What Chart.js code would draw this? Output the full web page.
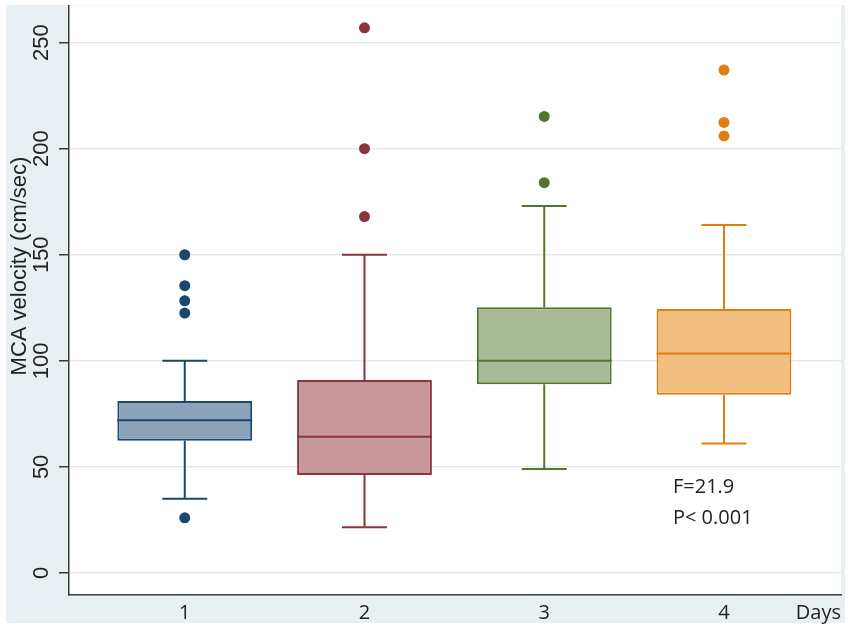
<!DOCTYPE html>
<html>
<head>
<meta charset="utf-8">
<script src="https://cdn.jsdelivr.net/npm/chart.js@4.4.1/dist/chart.umd.min.js"></script>
<style>
  html, body { margin: 0; padding: 0; background: #ffffff; }
  #wrap { width: 851px; height: 632px; }
</style>
</head>
<body>
<div id="wrap"><canvas id="c" width="851" height="632"></canvas></div>
<script>
// ---- data ----
const days = [1, 2, 3, 4];
const dayLabels = ['1', '2', '3', '4'];
const lowerWhisker = [35, 21.5, 49, 61];
const q1 = [62.3, 46.2, 89, 84];
const median = [72, 64.2, 100, 103.4];
const q3 = [81, 91, 125.2, 124.4];
const upperWhisker = [100, 150, 173, 164];
const outliersDay1 = [26, 122.5, 128.3, 135.4, 150];
const outliersDay2 = [168, 200, 257];
const outliersDay3 = [184, 215.2];
const outliersDay4 = [206, 212.4, 237.1];
const yTicks = [0, 50, 100, 150, 200, 250];
const statsText = ['F=21.9', 'P< 0.001'];

// ---- styles ----
const lineColors = ['#1a476f', '#8a3440', '#55752f', '#e07e12'];
const fillColors = ['#8ca3b7', '#c8979c', '#aaba96', '#f2bf80'];
const boxWidthUnits = 0.75;   // box width in x-axis units
const capWidthUnits = 0.25;   // whisker cap width in x-axis units
const outlierSets = [outliersDay1, outliersDay2, outliersDay3, outliersDay4];

const datasets = [];

// box bodies (floating bars q1..q3)
datasets.push({
  type: 'bar',
  data: days.map((d, i) => ({ x: d, y: [q1[i], q3[i]] })),
  backgroundColor: fillColors,
  borderColor: lineColors,
  borderWidth: 2,
  borderSkipped: false,
  barPercentage: boxWidthUnits,
  categoryPercentage: 1,
  order: 2
});

// whiskers, caps and medians (line segments separated by gaps)
days.forEach((d, i) => {
  const hb = boxWidthUnits / 2, hc = capWidthUnits / 2;
  const pts = [
    { x: d, y: q3[i] }, { x: d, y: upperWhisker[i] }, { x: d, y: null },
    { x: d - hc, y: upperWhisker[i] }, { x: d + hc, y: upperWhisker[i] }, { x: d + hc, y: null },
    { x: d, y: q1[i] }, { x: d, y: lowerWhisker[i] }, { x: d, y: null },
    { x: d - hc, y: lowerWhisker[i] }, { x: d + hc, y: lowerWhisker[i] }, { x: d + hc, y: null },
    { x: d - hb, y: median[i] }, { x: d + hb, y: median[i] }
  ];
  datasets.push({
    type: 'line',
    data: pts,
    borderColor: lineColors[i],
    borderWidth: 2,
    pointRadius: 0,
    spanGaps: false,
    fill: false,
    order: 1
  });
});

// outliers
days.forEach((d, i) => {
  datasets.push({
    type: 'line',
    data: outlierSets[i].map(v => ({ x: d, y: v })),
    showLine: false,
    pointRadius: 5.5,
    pointBackgroundColor: lineColors[i],
    pointBorderColor: lineColors[i],
    pointBorderWidth: 0,
    order: 0
  });
});

const panelPlugin = {
  id: 'panel',
  beforeDraw(chart) {
    const { ctx, chartArea: a } = chart;
    ctx.save();
    ctx.fillStyle = '#ffffff';
    ctx.fillRect(0, 0, chart.width, chart.height);
    ctx.fillStyle = '#e9f0f3';
    ctx.fillRect(6, 5, 839, 618);
    ctx.fillStyle = '#ffffff';
    ctx.fillRect(a.left, a.top, a.right - a.left, a.bottom - a.top);
    ctx.restore();
  },
  afterDraw(chart) {
    const { ctx } = chart;
    const xs = chart.scales.x, ys = chart.scales.y;
    ctx.save();
    // y-axis title
    ctx.font = '22px "Liberation Sans", Arial, sans-serif';
    ctx.fillStyle = '#222222';
    ctx.textAlign = 'center';
    ctx.textBaseline = 'alphabetic';
    ctx.translate(25.5, 266);
    ctx.rotate(-Math.PI / 2);
    ctx.fillText('MCA velocity (cm/sec)', 0, 0);
    ctx.restore();
    // statistics annotation
    ctx.save();
    ctx.font = '20px "Open Sans", sans-serif';
    ctx.fillStyle = '#222222';
    ctx.textAlign = 'left';
    ctx.textBaseline = 'alphabetic';
    const tx = xs.getPixelForValue(3.716);
    const ty = ys.getPixelForValue(37.6);
    statsText.forEach((t, k) => ctx.fillText(t, tx, ty + k * 31));
    ctx.restore();
  }
};

new Chart(document.getElementById('c'), {
  type: 'bar',
  data: { datasets },
  plugins: [panelPlugin],
  options: {
    responsive: false,
    animation: false,
    events: [],
    layout: { padding: { top: 5, right: 10, left: 0, bottom: 0 } },
    plugins: { legend: { display: false }, tooltip: { enabled: false } },
    scales: {
      x: {
        type: 'linear',
        offset: false,
        min: 0.356,
        max: 4.651,
        grid: { display: false, drawTicks: false, offset: false },
        border: { display: true, color: '#3a3a3a', width: 1.5 },
        afterBuildTicks: s => { s.ticks = days.map(v => ({ value: v })); },
        afterFit: s => { s.height = 37; s.paddingLeft = 0; s.paddingRight = 0; },
        ticks: {
          padding: 6,
          maxRotation: 0,
          font: { family: '"Open Sans", sans-serif', size: 20 },
          color: '#222222',
          callback: (v) => dayLabels[days.indexOf(v)]
        },
        title: {
          display: true,
          text: 'Days',
          align: 'end',
          padding: { top: 0, bottom: 7 },
          font: { family: '"Open Sans", sans-serif', size: 20 },
          color: '#222222'
        }
      },
      y: {
        type: 'linear',
        min: -10.4,
        max: 267.5,
        afterBuildTicks: s => { s.ticks = yTicks.map(v => ({ value: v })); },
        afterFit: s => { s.width = 69; s.paddingTop = 0; s.paddingBottom = 0; },
        grid: {
          color: '#e6e8ea',
          lineWidth: 1.5,
          drawTicks: true,
          tickLength: 10,
          tickColor: '#3a3a3a',
          tickWidth: 1.5
        },
        border: { display: true, color: '#3a3a3a', width: 1.5 },
        ticks: {
          minRotation: 90,
          maxRotation: 90,
          crossAlign: 'center',
          padding: -1,
          font: { family: '"Liberation Sans", Arial, sans-serif', size: 22 },
          color: '#222222'
        }
      }
    }
  }
});
</script>
</body>
</html>
